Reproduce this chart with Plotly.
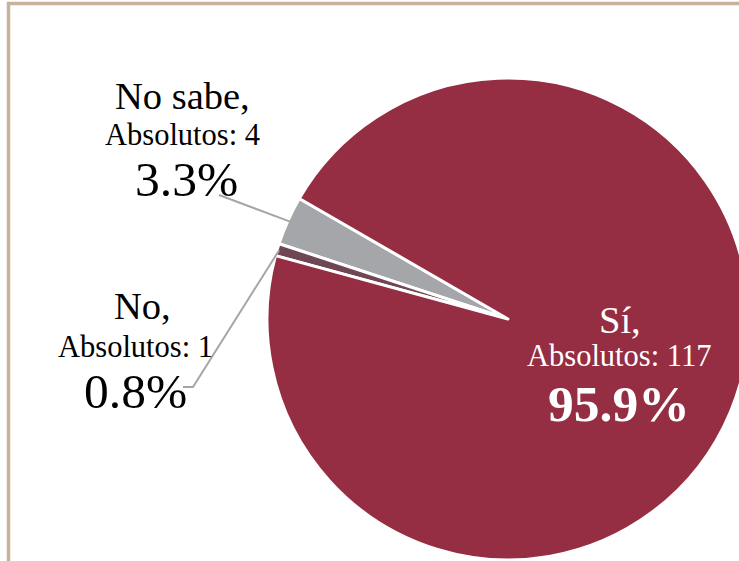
import math
import plotly.graph_objects as go

W, H = 760, 561  # figure wider than the 739 window: the pie is cut at the right

categories = ["No sabe", "No", "Sí"]
absolutos = [4, 1, 117]
percent_labels = ["3.3%", "0.8%", "95.9%"]
colors = ["#A4A6A9", "#6E4654", "#952D43"]

# pie geometry (pixels)
cx, cy, r = 508, 319, 241
first_edge_deg = 150.0  # math angle of the upper edge of the first slice

total = sum(absolutos)
# plotly (counterclockwise): first slice spans [rotation, rotation + v0] clockwise from 12 o'clock
rotation = 90 - first_edge_deg - 360 * absolutos[0] / total

def px(x):
    return x / W

def py(y):
    return 1 - y / H

fig = go.Figure(go.Pie(
    labels=categories,
    values=absolutos,
    sort=False,
    direction="counterclockwise",
    rotation=rotation,
    marker=dict(colors=colors, line=dict(color="white", width=3)),
    textinfo="none",
    hoverinfo="label+value+percent",
    domain=dict(x=[px(cx - r), px(cx + r)], y=[py(cy + r), py(cy - r)]),
    showlegend=False,
))

# slice mid-angles (math degrees) computed from data
mids = []
acc = 0
for v in absolutos:
    a0 = first_edge_deg + 360 * acc / total
    a1 = first_edge_deg + 360 * (acc + v) / total
    mids.append((a0 + a1) / 2)
    acc += v

def edge(i, rr=r):
    a = math.radians(mids[i])
    return cx + rr * math.cos(a), cy - rr * math.sin(a)

font = "Liberation Serif"
annos = []

def txt(x, y, s, size, color="black", bold=False):
    if bold:
        s = "<b>" + s + "</b>"
    annos.append(dict(x=px(x), y=py(y), xref="paper", yref="paper", text=s,
                      showarrow=False, xanchor="center", yanchor="middle",
                      font=dict(family=font, size=size, color=color)))

# No sabe
txt(182, 96, categories[0] + ",", 38.5)
txt(182, 135, f"Absolutos: {absolutos[0]}", 30.5)
txt(186, 180, percent_labels[0], 49.5)
# No
txt(142, 306, categories[1] + ",", 38.5)
txt(135, 347, f"Absolutos: {absolutos[1]}", 30.5)
txt(135, 391, percent_labels[1], 49.5)
# Sí
txt(620, 320, categories[2] + ",", 38.5, "white")
txt(619, 356, f"Absolutos: {absolutos[2]}", 30.5, "white")
txt(619, 403, percent_labels[2], 51.5, "white", bold=True)

shapes = []
# border
shapes.append(dict(type="rect", xref="paper", yref="paper",
                   x0=px(8.5), x1=px(W + 20), y0=py(H + 20), y1=py(3.5),
                   line=dict(color="#C9B29B", width=3.5), fillcolor="rgba(0,0,0,0)",
                   layer="below"))
# leader lines
ex, ey = edge(0, r - 3)
shapes.append(dict(type="path", xref="paper", yref="paper",
                   path=f"M {px(219)},{py(195)} L {px(ex)},{py(ey)}",
                   line=dict(color="#A6A6A6", width=2)))
ex, ey = edge(1, r - 2)
shapes.append(dict(type="path", xref="paper", yref="paper",
                   path=f"M {px(183)},{py(387)} L {px(193)},{py(387)} L {px(ex)},{py(ey)}",
                   line=dict(color="#A6A6A6", width=2)))

fig.update_layout(
    width=W, height=H,
    margin=dict(l=0, r=0, t=0, b=0),
    paper_bgcolor="white",
    plot_bgcolor="white",
    annotations=annos,
    shapes=shapes,
)

fig.write_html(
    "out.html",
    config={"displayModeBar": False},
    post_script="document.body.style.margin='0';"
                "document.body.style.overflow='hidden';"
                "document.documentElement.style.overflow='hidden';",
)
